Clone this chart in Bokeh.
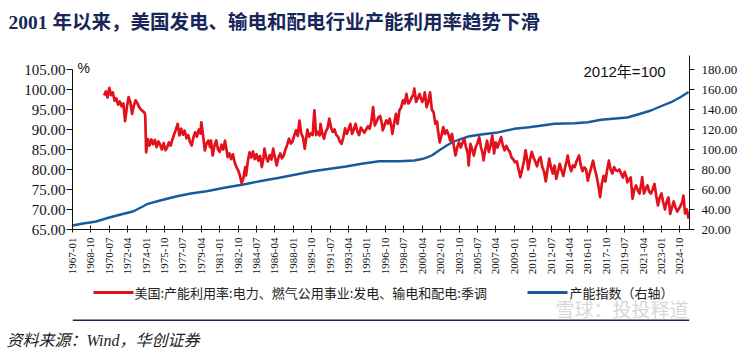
from bokeh.plotting import figure
from bokeh.layouts import column
from bokeh.models import (Range1d, LinearAxis, FixedTicker, PrintfTickFormatter,
                          Label, Title)
from bokeh.core.properties import value
from bokeh.embed import file_html
from bokeh.resources import INLINE

# x tick labels (monthly category axis, every 21 months)
tick_labels = ["1967-01", "1968-10", "1970-07", "1972-04", "1974-01", "1975-10", "1977-07",
               "1979-04", "1981-01", "1982-10", "1984-07", "1986-04", "1988-01", "1989-10",
               "1991-07", "1993-04", "1995-01", "1996-10", "1998-07", "2000-04", "2002-01",
               "2003-10", "2005-07", "2007-04", "2009-01", "2010-10", "2012-07", "2014-04",
               "2016-01", "2017-10", "2019-07", "2021-04", "2023-01", "2024-10"]

# red series: capacity utilisation (%), months counted from 1967-01
red_month = [36, 38, 40, 42, 44, 46, 48, 50, 52, 54,
             56, 58, 60, 62, 64, 66, 68, 70, 72, 74,
             76, 78, 80, 82, 83, 84, 86, 88, 90, 92,
             94, 96, 98, 100, 102, 104, 106, 108, 110, 112,
             114, 116, 118, 120, 122, 124, 126, 128, 130, 132,
             134, 136, 138, 140, 142, 144, 146, 147, 149, 151,
             153, 155, 157, 158, 160, 162, 164, 166, 168, 170,
             172, 174, 176, 177, 179, 181, 183, 185, 187, 189,
             191, 193, 195, 197, 198, 200, 202, 204, 206, 208,
             210, 212, 214, 216, 218, 219, 221, 223, 225, 227,
             229, 231, 233, 235, 237, 239, 241, 243, 245, 247,
             249, 251, 253, 255, 257, 259, 261, 263, 265, 267,
             268, 270, 272, 274, 276, 278, 280, 282, 283, 285,
             287, 289, 291, 293, 295, 297, 299, 301, 303, 305,
             307, 309, 311, 313, 315, 317, 319, 321, 323, 325,
             327, 329, 331, 333, 335, 337, 339, 341, 343, 345,
             347, 349, 351, 353, 354, 356, 358, 360, 362, 364,
             365, 367, 369, 371, 373, 375, 377, 379, 381, 383,
             385, 387, 389, 390, 392, 394, 396, 398, 399, 401,
             402, 404, 406, 408, 410, 412, 414, 416, 417, 419,
             421, 423, 425, 427, 429, 431, 433, 435, 437, 439,
             441, 443, 445, 447, 449, 451, 452, 454, 456, 458,
             460, 462, 464, 466, 468, 469, 471, 473, 475, 477,
             479, 481, 483, 485, 487, 489, 491, 493, 495, 497,
             499, 501, 503, 505, 507, 509, 511, 513, 515, 517,
             519, 520, 522, 524, 526, 528, 530, 532, 534, 536,
             538, 540, 542, 544, 546, 548, 550, 552, 554, 556,
             558, 560, 562, 564, 565, 567, 569, 571, 573, 575,
             577, 578, 580, 582, 584, 586, 588, 590, 592, 594,
             596, 598, 600, 602, 604, 606, 608, 610, 612, 614,
             616, 618, 620, 622, 624, 626, 628, 630, 632, 633,
             635, 637, 639, 641, 643, 645, 647, 649, 650, 652,
             654, 656, 658, 660, 662, 664, 666, 668, 670, 672,
             674, 676, 678, 680, 682, 684, 686, 688, 690, 692,
             694, 696, 697, 699, 701, 703]
red_value = [98.5, 99.5, 98.0, 100.4, 98.6, 99.3, 97.2, 97.8, 96.2, 97.0,
             95.8, 96.5, 92.1, 95.5, 98.1, 96.8, 93.9, 96.0, 97.3, 96.6,
             95.6, 95.0, 94.6, 94.3, 93.5, 84.3, 87.6, 86.0, 87.5, 86.3,
             87.4, 85.6, 87.0, 86.2, 85.0, 86.6, 84.8, 85.5, 86.8, 86.0,
             87.5, 88.8, 90.0, 91.4, 88.5, 90.2, 88.7, 89.7, 87.8, 88.6,
             86.9, 86.0, 88.0, 89.3, 88.2, 90.0, 89.0, 91.8, 88.5, 84.8,
             86.5, 87.2, 85.6, 87.2, 83.5, 86.0, 87.3, 85.0, 84.4, 86.2,
             85.0, 87.2, 84.6, 83.1, 84.0, 82.6, 83.8, 81.8, 80.6, 79.8,
             78.5, 76.6, 77.8, 80.6, 78.5, 82.0, 84.3, 83.0, 84.5, 82.6,
             83.8, 82.2, 83.4, 80.6, 83.0, 85.2, 83.0, 82.0, 83.6, 82.5,
             85.2, 83.0, 81.0, 83.0, 84.0, 82.8, 83.5, 85.0, 86.2, 87.7,
             86.5, 87.0, 88.5, 89.8, 88.4, 92.2, 89.0, 88.0, 85.2, 88.3,
             90.0, 88.2, 89.0, 88.6, 94.8, 88.6, 89.4, 88.5, 91.4, 89.0,
             87.7, 89.5, 90.3, 92.7, 90.5, 89.4, 90.0, 88.6, 88.2, 87.0,
             86.4, 88.0, 90.3, 88.9, 90.0, 91.4, 88.9, 90.0, 91.4, 89.5,
             88.6, 90.5, 89.8, 89.2, 90.0, 90.8, 90.2, 92.0, 95.6, 91.0,
             92.0, 93.0, 93.4, 91.5, 89.8, 91.0, 92.3, 91.5, 92.7, 90.5,
             88.9, 91.5, 93.9, 91.4, 94.8, 95.5, 97.3, 96.5, 98.9, 96.5,
             97.0, 98.0, 98.8, 100.2, 96.9, 97.8, 98.9, 97.5, 96.9, 98.0,
             99.3, 95.6, 97.0, 99.3, 95.0, 94.3, 91.4, 92.0, 89.8, 86.8,
             88.5, 90.6, 88.9, 89.8, 88.8, 87.2, 88.9, 86.0, 83.5, 85.6,
             86.8, 85.5, 86.6, 87.7, 85.6, 84.0, 81.0, 86.4, 85.0, 83.5,
             85.6, 86.5, 88.1, 85.6, 84.0, 82.3, 85.0, 87.2, 84.4, 86.0,
             88.5, 84.0, 86.8, 85.5, 86.8, 88.1, 86.0, 84.8, 85.9, 85.0,
             84.4, 83.0, 82.5, 81.8, 82.0, 80.0, 78.1, 80.0, 82.0, 84.8,
             82.0, 80.0, 82.5, 84.4, 83.0, 82.0, 80.8, 82.5, 83.1, 80.6,
             79.5, 77.0, 80.0, 82.7, 80.5, 79.0, 81.0, 77.7, 79.5, 81.4,
             79.8, 78.4, 80.5, 82.3, 83.5, 81.0, 79.6, 81.0, 80.6, 82.0,
             83.0, 83.5, 81.0, 79.6, 80.5, 80.0, 77.2, 79.0, 80.6, 82.2,
             80.0, 78.4, 76.0, 73.1, 76.5, 78.4, 77.0, 79.8, 82.2, 80.0,
             79.0, 80.6, 79.8, 79.6, 80.0, 79.0, 78.0, 79.4, 78.2, 76.8,
             77.5, 78.0, 72.7, 75.0, 76.0, 74.8, 74.0, 76.5, 78.1, 74.0,
             75.2, 76.0, 74.5, 74.0, 75.0, 76.4, 73.5, 71.0, 73.0, 74.0,
             71.8, 70.0, 72.0, 73.0, 68.9, 70.5, 72.0, 70.5, 69.5, 70.2,
             71.0, 72.0, 73.5, 69.0, 70.0, 67.7]

# blue series: capacity index (right axis), months counted from 1967-01
blue_month = [0, 12, 22, 27, 40, 55, 69, 78, 86, 100,
              118, 135, 153, 175, 195, 215, 236, 255, 274, 292,
              312, 330, 350, 373, 390, 400, 410, 419, 427, 434,
              440, 453, 466, 483, 504, 521, 540, 550, 573, 588,
              603, 620, 633, 647, 660, 668, 683, 693, 703]
blue_value = [24.0, 26.0, 27.3, 28.0, 31.5, 35.0, 38.0, 42.0, 45.7, 49.0,
              53.0, 56.0, 58.3, 62.0, 65.0, 68.5, 71.7, 75.0, 78.3, 80.5,
              83.0, 85.8, 88.3, 88.3, 89.0, 90.7, 94.0, 99.5, 104.0, 107.5,
              109.5, 113.3, 115.0, 116.7, 120.7, 122.3, 124.5, 125.7, 126.3, 127.3,
              129.7, 131.0, 132.0, 135.5, 139.0, 142.0, 147.3, 152.0, 157.5]

left_ticks = [65, 70, 75, 80, 85, 90, 95, 100, 105]
right_ticks = [20, 40, 60, 80, 100, 120, 140, 160, 180]

title_text = "2001 年以来，美国发电、输电和配电行业产能利用率趋势下滑"
red_name = "美国:产能利用率:电力、燃气公用事业:发电、输电和配电:季调"
blue_name = "产能指数（右轴）"
unit_text = "%"
base_text = "2012年=100"
source_text = "资料来源：Wind，华创证券"
mark_text = "雪球：投投释道"

RED = "#E2111B"
BLUE = "#185B9C"
NAVY = "#17275A"
SERIF = "Liberation Serif, Noto Sans CJK SC"
CJK = "Noto Sans CJK SC"

W, H = 745, 352
FRAME_L, FRAME_R = 72, 689
FRAME_TOP, FRAME_BOT = 40, 229   # canvas px of the main frame
AXIS_TOP = 69                    # canvas y of 105 / 180
RIGHT_LINE_TOP = 55
X_END = 704

MAIN_H = 278                     # canvas 0..278
RULE_TOP, RULE_H = 321, 2        # navy rule strip
LEG_H = RULE_TOP - MAIN_H        # legend strip 278..321
SRC_H = H - RULE_TOP - RULE_H    # source strip 323..352

frame_h = FRAME_BOT - FRAME_TOP
lpx = (FRAME_BOT - AXIS_TOP) / (left_ticks[-1] - left_ticks[0])
rpx = (FRAME_BOT - AXIS_TOP) / (right_ticks[-1] - right_ticks[0])

def styled(f, fill="white"):
    f.background_fill_color = fill
    f.border_fill_color = fill
    f.outline_line_color = None
    f.grid.visible = False
    return f

# ======================= main chart =======================
p = figure(width=W, height=MAIN_H, output_backend="svg", toolbar_location=None, title=None,
           x_range=Range1d(0, X_END),
           y_range=Range1d(left_ticks[0], left_ticks[0] + frame_h / lpx),
           min_border_left=FRAME_L, min_border_right=W - FRAME_R,
           min_border_top=FRAME_TOP, min_border_bottom=MAIN_H - FRAME_BOT)
p.extra_y_ranges = {"right": Range1d(right_ticks[0], right_ticks[0] + frame_h / rpx)}
styled(p)

def month_index(s):
    y, m = s.split("-")
    return (int(y) - 1967) * 12 + int(m) - 1

tick_pos = [month_index(s) for s in tick_labels]
xa = p.xaxis[0]
xa.ticker = FixedTicker(ticks=tick_pos)
xa.major_label_overrides = {t: s for t, s in zip(tick_pos, tick_labels)}
xa.major_label_orientation = 1.5707963
xa.major_label_text_font = SERIF
xa.major_label_text_font_size = "11px"
xa.major_label_text_color = "#111111"
xa.major_tick_in = 4
xa.major_tick_out = 3
xa.minor_tick_line_color = None
xa.major_label_standoff = 5
xa.axis_line_color = "#111111"
xa.major_tick_line_color = "#111111"

ya = p.yaxis[0]
ya.ticker = FixedTicker(ticks=left_ticks)
ya.bounds = (left_ticks[0], left_ticks[-1])
ya.formatter = PrintfTickFormatter(format="%.2f")
ya.major_label_text_font = SERIF
ya.major_label_text_font_size = "15px"
ya.major_label_text_color = "#111111"
ya.major_tick_in = 0
ya.major_tick_out = 6
ya.minor_tick_line_color = None
ya.major_label_standoff = 1
ya.axis_line_color = "#111111"
ya.major_tick_line_color = "#111111"

ra = LinearAxis(y_range_name="right")
ra.ticker = FixedTicker(ticks=right_ticks)
ra.bounds = (right_ticks[0], right_ticks[0] + (FRAME_BOT - RIGHT_LINE_TOP) / rpx)
ra.formatter = PrintfTickFormatter(format="%.2f")
ra.major_label_text_font = SERIF
ra.major_label_text_font_size = "13px"
ra.major_label_text_color = "#111111"
ra.major_tick_in = 0
ra.major_tick_out = 5
ra.minor_tick_line_color = None
ra.major_label_standoff = 7
ra.axis_line_color = "#111111"
ra.major_tick_line_color = "#111111"
p.add_layout(ra, "right")

p.line(blue_month, blue_value, y_range_name="right", line_color=BLUE,
       line_width=2.4, line_join="round")
p.line(red_month, red_value, line_color=RED, line_width=2.7, line_join="round")

p.add_layout(Label(x=77 - FRAME_L, y=FRAME_BOT - 67, x_units="screen", y_units="screen",
                   text=unit_text, text_font="Liberation Sans", text_font_size="14px",
                   text_color="#111111", text_baseline="middle", text_align="left"))
p.add_layout(Label(x=583 - FRAME_L, y=FRAME_BOT - 71, x_units="screen", y_units="screen",
                   text=base_text, text_font="Liberation Sans, Noto Sans CJK SC",
                   text_font_size="15px", text_color="#111111",
                   text_baseline="middle", text_align="left"))

p.add_layout(Title(text=title_text, align="left", offset=8 - FRAME_L, vertical_align="middle",
                   standoff=14, text_font=SERIF, text_font_style="bold",
                   text_font_size="19.5px", text_color=NAVY), "above")

# ======================= legend strip (278..321) =======================
# data units of this strip are canvas pixels: x = canvas x, y = up from strip bottom
pl = figure(width=W, height=LEG_H, output_backend="svg", toolbar_location=None, title=None,
            x_range=Range1d(FRAME_L, FRAME_R), y_range=Range1d(0, LEG_H),
            min_border_left=FRAME_L, min_border_right=W - FRAME_R,
            min_border_top=0, min_border_bottom=0,
            x_axis_type=None, y_axis_type=None)
styled(pl)

def sy(canvas_y):
    return LEG_H - (canvas_y - MAIN_H)

key_y = sy(292)
pl.segment(x0=[93], y0=[key_y], x1=[133], y1=[key_y], line_color=RED, line_width=3)
pl.segment(x0=[527], y0=[key_y], x1=[567], y1=[key_y], line_color=BLUE, line_width=3)
pl.text(x=[134], y=[key_y], text=[red_name], text_font=value(CJK), text_font_size="13px",
        text_color="#222222", text_baseline="middle", text_align="left")
pl.text(x=[569], y=[key_y], text=[blue_name], text_font=value(CJK), text_font_size="13px",
        text_color="#222222", text_baseline="middle", text_align="left")
# rule under the legend (continues in the navy strip below)
pl.segment(x0=[FRAME_L], y0=[sy(320)], x1=[FRAME_R], y1=[sy(320)],
           line_color=NAVY, line_width=2)
pl.text(x=[688], y=[sy(308)], text=[mark_text], text_font=value(CJK),
        text_font_size="19px", text_color="#CFCFCF", text_alpha=0.85,
        text_baseline="middle", text_align="right")

# ======================= navy rule strip =======================
pr = figure(width=W, height=RULE_H, output_backend="svg", toolbar_location=None, title=None,
            min_border_left=FRAME_L, min_border_right=W - FRAME_R,
            min_border_top=0, min_border_bottom=0,
            x_axis_type=None, y_axis_type=None)
styled(pr, NAVY)

# ======================= source strip =======================
ps = figure(width=W, height=SRC_H, output_backend="svg", toolbar_location=None, title=None,
            min_border_left=FRAME_L, min_border_right=W - FRAME_R,
            min_border_top=SRC_H, min_border_bottom=0,
            x_axis_type=None, y_axis_type=None)
styled(ps)
ps.add_layout(Title(text=source_text, align="left", offset=6 - FRAME_L,
                    vertical_align="bottom", standoff=7, text_font=SERIF,
                    text_font_style="italic", text_font_size="16px",
                    text_color="#222222"), "above")

layout = column(p, pl, pr, ps, spacing=0)
open("out.html", "w").write(file_html(layout, INLINE))
